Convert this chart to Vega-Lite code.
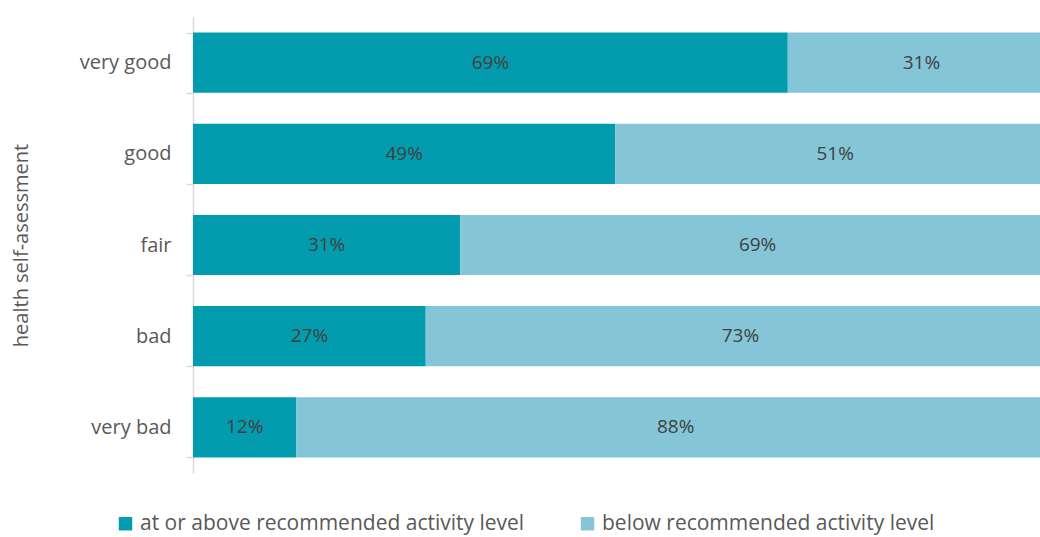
{
  "$schema": "https://vega.github.io/schema/vega-lite/v6.json",
  "width": 847,
  "height": 456,
  "autosize": {"type": "none"},
  "padding": {"left": 193, "top": 17, "right": 0, "bottom": 64},
  "background": "white",
  "data": {
    "values": [
      {"health": "very good", "level": "at or above recommended activity level", "pct": 69},
      {"health": "very good", "level": "below recommended activity level", "pct": 31},
      {"health": "good", "level": "at or above recommended activity level", "pct": 49},
      {"health": "good", "level": "below recommended activity level", "pct": 51},
      {"health": "fair", "level": "at or above recommended activity level", "pct": 31},
      {"health": "fair", "level": "below recommended activity level", "pct": 69},
      {"health": "bad", "level": "at or above recommended activity level", "pct": 27},
      {"health": "bad", "level": "below recommended activity level", "pct": 73},
      {"health": "very bad", "level": "at or above recommended activity level", "pct": 12},
      {"health": "very bad", "level": "below recommended activity level", "pct": 88}
    ]
  },
  "transform": [
    {"calculate": "datum.level === 'at or above recommended activity level' ? 0 : 1", "as": "ord"},
    {"stack": "pct", "groupby": ["health"], "sort": [{"field": "ord", "order": "ascending"}], "offset": "normalize", "as": ["x0", "x1"]},
    {"calculate": "(datum.x0 + datum.x1) / 2", "as": "mid"},
    {"calculate": "datum.pct / 100", "as": "share"}
  ],
  "encoding": {
    "y": {
      "field": "health",
      "type": "nominal",
      "sort": ["very good", "good", "fair", "bad", "very bad"],
      "scale": {"paddingInner": 0.34, "paddingOuter": 0.17},
      "axis": {
        "title": "health self-asessment",
        "titleFont": "Open Sans",
        "titleFontSize": 20,
        "titleFontWeight": "normal",
        "titleColor": "#595959",
        "titlePadding": 48,
        "labelFont": "Open Sans",
        "labelFontSize": 20,
        "labelColor": "#595959",
        "labelPadding": 15,
        "tickBand": "extent",
        "tickSize": 7,
        "tickColor": "#d9d9d9",
        "tickWidth": 1.5,
        "domainColor": "#d9d9d9",
        "domainWidth": 1.5
      }
    }
  },
  "layer": [
    {
      "mark": {"type": "bar", "clip": true},
      "encoding": {
        "x": {"field": "x0", "type": "quantitative", "scale": {"domain": [0, 0.9826], "nice": false, "zero": true}, "axis": null},
        "x2": {"field": "x1"},
        "color": {
          "field": "level",
          "type": "nominal",
          "scale": {
            "domain": ["at or above recommended activity level", "below recommended activity level"],
            "range": ["#039CAE", "#84C6D7"]
          },
          "legend": {
            "title": null,
            "orient": "none",
            "legendX": -78,
            "legendY": 496,
            "direction": "horizontal",
            "symbolType": "square",
            "symbolSize": 180,
            "symbolStrokeWidth": 0,
            "labelFont": "Open Sans",
            "labelFontSize": 21,
            "labelColor": "#595959",
            "labelLimit": 500,
            "columnPadding": 52
          }
        }
      }
    },
    {
      "mark": {"type": "text", "font": "Open Sans", "fontSize": 19, "color": "#404040", "baseline": "middle", "align": "center"},
      "encoding": {
        "x": {"field": "mid", "type": "quantitative"},
        "text": {"field": "share", "type": "quantitative", "format": ".0%"}
      }
    }
  ],
  "config": {"view": {"stroke": null}}
}
